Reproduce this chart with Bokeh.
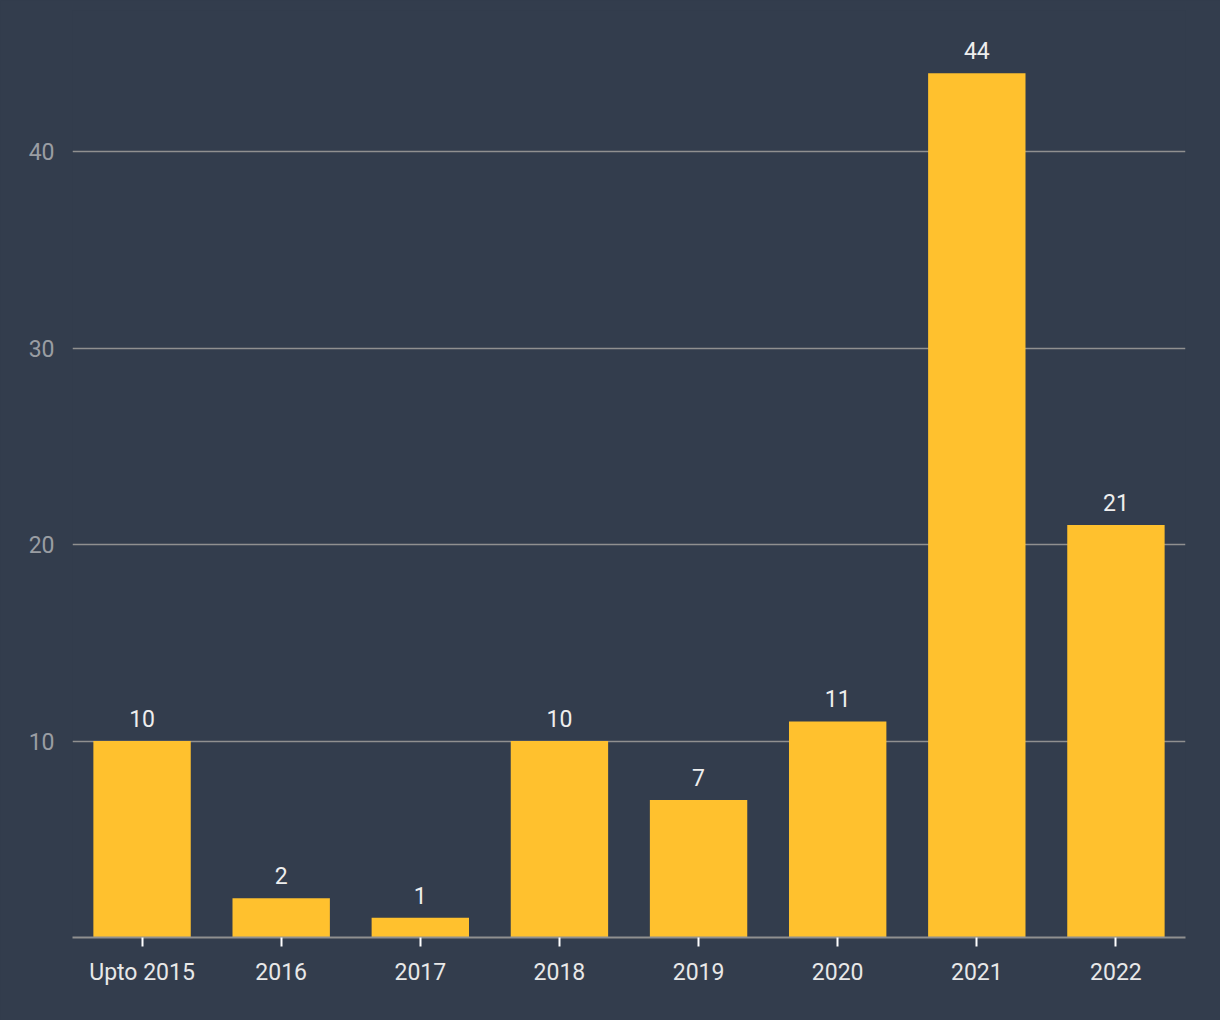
from bokeh.plotting import figure
from bokeh.models import ColumnDataSource, Range1d, FixedTicker, LabelSet
from bokeh.core.properties import value
from bokeh.embed import file_html
from bokeh.resources import INLINE

categories = ["Upto 2015", "2016", "2017", "2018", "2019", "2020", "2021", "2022"]
counts = [10, 2, 1, 10, 7, 11, 44, 21]
y_ticks = [10, 20, 30, 40]

BG = "#333d4d"
BAR = "#ffc12e"

src = ColumnDataSource(data=dict(cat=categories, val=counts, lbl=[str(v) for v in counts]))

p = figure(x_range=categories, y_range=Range1d(0, 47.2), width=1220, height=1020,
           output_backend="svg", toolbar_location=None,
           min_border_left=72, min_border_right=35, min_border_top=10, min_border_bottom=83)
p.background_fill_color = BG
p.border_fill_color = BG
p.outline_line_color = None
p.styles = {"background-color": BG}

p.vbar(x="cat", top="val", width=0.7, source=src, fill_color=BAR, line_color=None)

labels = LabelSet(x="cat", y="val", text="lbl", source=src, text_align="center",
                  text_baseline="bottom", y_offset=14, text_color="#eeeeee",
                  text_font=value("Roboto"), text_font_size="23px")
p.add_layout(labels)

p.xgrid.grid_line_color = None
p.ygrid.grid_line_color = "#909090"
p.ygrid.grid_line_width = 1.5
p.yaxis.ticker = FixedTicker(ticks=y_ticks)

p.yaxis.axis_line_color = None
p.yaxis.major_tick_line_color = None
p.yaxis.minor_tick_line_color = None
p.yaxis.major_label_text_color = "#9a9da3"
p.yaxis.major_label_text_font = "Roboto"
p.yaxis.major_label_text_font_size = "23px"
p.yaxis.major_label_standoff = 12

p.xaxis.axis_line_color = "#909090"
p.xaxis.axis_line_width = 2
p.xaxis.major_tick_line_color = "#ffffff"
p.xaxis.major_tick_line_width = 2
p.xaxis.major_tick_in = 0
p.xaxis.major_tick_out = 9
p.xaxis.major_label_text_color = "#e8e8e8"
p.xaxis.major_label_text_font = "Roboto"
p.xaxis.major_label_text_font_size = "23px"
p.xaxis.major_label_standoff = 12

open("out.html", "w").write(file_html(p, INLINE))
